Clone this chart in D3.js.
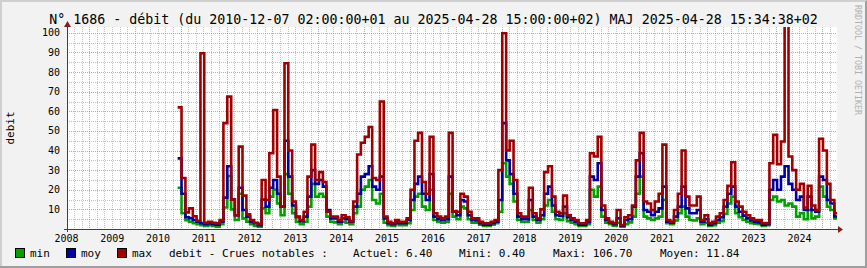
<!DOCTYPE html>
<html><head><meta charset="utf-8">
<script src="https://cdn.jsdelivr.net/npm/d3@7"></script>
<style>
html,body{margin:0;padding:0;background:#f2f2f2;overflow:hidden;}
svg{display:block;}
text{font-family:"DejaVu Sans Mono", monospace;}
</style></head><body>
<svg id="c" width="867" height="268"></svg>
<script>
// ---------- DATA ----------
const titleText = "N° 1686 - débit (du 2010-12-07 02:00:00+01 au 2025-04-28 15:00:00+02) MAJ 2025-04-28 15:34:38+02";
const yAxisTitle = "debit";
const watermark = "RRDTOOL / TOBI OETIKER";
const seriesNames = ["min", "moy", "max"];
const seriesColors = ["#00a000", "#0000a0", "#a00000"];
const legendTitle = "debit - Crues notables :";
const statLabels = ["Actuel:", "Mini:", "Maxi:", "Moyen:"];
const statValues = ["6.40", "0.40", "106.70", "11.84"];
const firstDate = "2010-12-07";          // monthly samples from this date
const axisStart = "2008-07-08T00:00:00";
const axisEnd = "2025-04-28T15:00:00";
const yTicks = [10, 20, 30, 40, 50, 60, 70, 80, 90, 100];
const yMinorTicks = [5, 15, 25, 35, 45, 55, 65, 75, 85, 95];
const yearLabels = [2008, 2009, 2010, 2011, 2012, 2013, 2014, 2015, 2016, 2017, 2018, 2019, 2020, 2021, 2022, 2023, 2024];

const maxValues = [
 62, 26, 8.5, 10.5, 6.5, 4.2, 89.6, 3.2, 3.7, 3.2, 2.9, 4.6,
 54, 67.5, 15, 7, 42, 17, 7.5, 4.6, 3.2, 2.5, 25, 14.8,
 38.6, 60.7, 26.7, 11.4, 84.5, 40, 14, 6, 4.6, 8.8, 26.7, 43,
 25, 29, 24, 8.8, 6.3, 6.3, 4.6, 7, 6, 4, 14, 38,
 44, 47, 52, 26, 25, 65, 6.3, 3.7, 2.9, 4.6, 3.7, 3.7,
 5.4, 20, 45, 49, 24, 18, 47, 8, 6.3, 5.4, 6.3, 49,
 9, 8.8, 18, 16.5, 8.8, 5.4, 5.4, 3.7, 2.9, 2.9, 3.7, 4.6,
 30, 99.8, 40, 45, 25, 8, 6.3, 6.3, 21, 8, 5.4, 10,
 29, 32, 16.5, 8.8, 8, 17, 7, 5.4, 4.6, 2.9, 2.9, 4.6,
 38.6, 37, 47, 12, 5.5, 3.7, 2.9, 9.7, 2, 6, 7, 12,
 35, 49, 14, 13, 9.7, 14, 18, 43, 4.6, 3.7, 9.7, 18,
 40, 16.5, 12, 12, 16.5, 4.6, 7, 2.9, 3.7, 6.3, 8, 14.8,
 22, 34, 14, 11.4, 8.8, 7, 5.4, 4.6, 4.6, 2.9, 3, 33.5,
 48, 33, 44.6, 106.7, 37, 30, 20, 23, 11, 22, 12, 9.7,
 46, 40, 23, 14.8, 8
];
const moyValues = [
 36, 18, 6, 5.5, 4.6, 3.7, 3, 2.5, 3, 2.5, 2.2, 3.7,
 16, 32, 15, 7, 21, 9.7, 6.3, 3.7, 2.9, 2, 15, 11.4,
 21, 25, 18, 11.4, 45, 26.7, 12, 6.3, 4, 6.3, 16.5, 30,
 23, 25, 21.6, 9.7, 5.4, 5.4, 3.7, 5.4, 5, 3.7, 11.4, 18,
 26.7, 28, 32, 21.6, 20, 26.7, 5.4, 2.9, 2.5, 3.4, 2.9, 2.9,
 4.6, 14.8, 23, 26.7, 18, 14.8, 28, 6.3, 5, 4.6, 5, 26.7,
 8.8, 7, 14.8, 14, 7, 4.6, 4.3, 2.9, 2.2, 2.2, 2.9, 3.7,
 14.8, 54, 35, 28, 18, 6.3, 5, 5, 14.8, 6.3, 4.6, 7,
 18, 21.6, 12, 7, 6.6, 11.4, 6, 4.6, 3.7, 2.2, 2.2, 3.6,
 26.7, 25, 33.5, 9.7, 4.6, 3.4, 2.4, 5.4, 1.7, 4.6, 5.1, 11.4,
 26.7, 38.6, 9.7, 8.8, 7, 8.8, 10.5, 21.6, 3.7, 3.2, 6.3, 11.4,
 21.6, 10.5, 8, 8, 9.7, 3.7, 5, 2.2, 2.9, 4.6, 6, 11.4,
 18, 21.6, 11.4, 8.8, 6.8, 5.4, 4.3, 3.6, 3.4, 2.2, 2.5, 20,
 25, 20, 26.7, 32, 23, 20, 14.8, 16.5, 9.7, 16.5, 9.7, 8.8,
 26.7, 25, 14.8, 13, 6.4
];
const minValues = [
 21, 8, 4.5, 3.7, 3, 2.5, 2, 1.5, 2, 1.5, 1.2, 2.5,
 11, 27, 10, 4.6, 18, 5.4, 3.7, 2.5, 1.5, 1.2, 10.5, 8,
 16.5, 20, 13, 7, 28, 18, 8, 3.7, 2.5, 3.7, 11.4, 23,
 16.5, 18, 16.5, 6.3, 3.7, 3.4, 2.5, 3.7, 3.2, 2.5, 8, 11.4,
 20, 21.6, 25, 14.8, 13, 18, 3.2, 2, 1.5, 2.4, 1.9, 1.9,
 2.9, 9.7, 16.5, 18, 11.4, 9.7, 20, 4.6, 3.6, 3.2, 3.6, 18,
 6.3, 5, 11.4, 10.5, 5, 3.2, 3.2, 2.2, 1.5, 1.5, 2.2, 2.9,
 8.8, 33.5, 26.7, 23, 14, 4.6, 3.6, 3.6, 9.7, 4.6, 3.2, 5,
 12, 14.8, 8.8, 5, 4.6, 8, 4, 3.2, 2.5, 1.5, 1.5, 2.5,
 20, 16.5, 21.6, 6.3, 3.2, 2.5, 1.7, 3.2, 1.2, 2.5, 3.4, 6.3,
 18, 26.7, 6.3, 5.4, 4.6, 5.4, 6.3, 14.8, 2.9, 2.4, 4.3, 8,
 11.4, 6.3, 4.6, 4.3, 5.4, 2.5, 3.2, 1.5, 2, 3.2, 4, 7.7,
 13, 16.5, 8, 6, 4.6, 3.7, 3, 2.7, 2.5, 1.5, 1.9, 14.8,
 16.5, 14, 14.8, 12, 13, 11.4, 6.3, 8, 5, 9.7, 5.4, 6.3,
 21.6, 16.5, 11.4, 9.7, 5.4
];

// ---------- LAYOUT ----------
const W = 867, H = 268;
const L = 67, R = 837, T = 27, B = 229;
const svg = d3.select("#c");

svg.append("rect").attr("width", W).attr("height", H).attr("fill", "#f2f2f2");
svg.append("path").attr("d", `M0,0H${W}V2H2V${H}H0Z`).attr("fill", "#cfcfcf");
svg.append("path").attr("d", `M${W},0V${H}H0V${H-2}H${W-2}V2Z`).attr("fill", "#9e9e9e");
svg.append("rect").attr("x", L).attr("y", T).attr("width", R - L).attr("height", B - T).attr("fill", "#ffffff");

const x = d3.scaleTime().domain([new Date(axisStart), new Date(axisEnd)]).range([L, R]);
const y = d3.scaleLinear().domain([0, 103]).range([B, T]);

const gridMinor = "rgba(143,143,143,0.55)";
const gridMajor = "rgba(222,79,79,0.6)";
const dash = "1,1";
const px = v => Math.round(v) + 0.5;

const g = svg.append("g");
// vertical minor grid: every 2 months
const d0 = new Date(axisStart), d1 = new Date(axisEnd);
d3.timeMonth.every(2).range(d0, d1).filter(d => d.getMonth() !== 0).forEach(d => {
  g.append("line").attr("x1", px(x(d))).attr("x2", px(x(d))).attr("y1", T).attr("y2", B)
    .attr("stroke", gridMinor).attr("stroke-dasharray", dash);
});
yMinorTicks.forEach(v => {
  g.append("line").attr("x1", L).attr("x2", R).attr("y1", px(y(v))).attr("y2", px(y(v)))
    .attr("stroke", gridMinor).attr("stroke-dasharray", dash);
});
d3.timeYear.range(d0, d1).forEach(d => {
  g.append("line").attr("x1", px(x(d))).attr("x2", px(x(d))).attr("y1", T).attr("y2", B)
    .attr("stroke", gridMajor).attr("stroke-dasharray", dash);
});
yTicks.forEach(v => {
  g.append("line").attr("x1", L).attr("x2", R).attr("y1", px(y(v))).attr("y2", px(y(v)))
    .attr("stroke", gridMajor).attr("stroke-dasharray", dash);
});

// ---------- SERIES ----------
svg.append("clipPath").attr("id", "clip").append("rect")
  .attr("x", L).attr("y", T).attr("width", R - L).attr("height", B - T);

const start = new Date(firstDate + "T00:00:00");
function toPoints(arr) {
  const pts = arr.map((v, i) => ({ d: d3.timeMonth.offset(start, i), v }));
  pts.push({ d: d3.timeMonth.offset(start, arr.length), v: arr[arr.length - 1] });
  return pts;
}
const line = d3.line().x(p => x(p.d)).y(p => y(p.v)).curve(d3.curveStepAfter);
const allSeries = [minValues, moyValues, maxValues];
const sg = svg.append("g").attr("clip-path", "url(#clip)");
allSeries.forEach((arr, i) => {
  sg.append("path").attr("d", line(toPoints(arr)))
    .attr("fill", "none").attr("stroke", seriesColors[i])
    .attr("stroke-width", 2.6).attr("stroke-linejoin", "miter");
});

// ---------- AXES ----------
const axisCol = "#404040", arrowCol = "#801f1f";
svg.append("line").attr("x1", L - 3).attr("x2", R + 2).attr("y1", B + 0.5).attr("y2", B + 0.5).attr("stroke", axisCol);
svg.append("line").attr("x1", L + 0.5).attr("x2", L + 0.5).attr("y1", B + 3).attr("y2", T - 3).attr("stroke", axisCol);
svg.append("path").attr("d", `M${R+1},${B-3}L${R+6},${B+0.5}L${R+1},${B+4}Z`).attr("fill", arrowCol);
svg.append("path").attr("d", `M${L-3},${T}L${L+0.5},${T-6}L${L+4},${T}Z`).attr("fill", arrowCol);

// y tick labels
yTicks.forEach(v => {
  svg.append("text").attr("x", 60).attr("y", y(v) + 3.5).attr("text-anchor", "end")
    .attr("font-size", 10).attr("fill", "#000").text(v);
});
// x year labels (centered mid-year)
yearLabels.forEach(yr => {
  svg.append("text").attr("x", x(new Date(yr, 6, 4))).attr("y", 242).attr("text-anchor", "middle")
    .attr("font-size", 10).attr("fill", "#000").text(yr);
});

// title
svg.append("text").attr("x", W / 2).attr("y", 24).attr("text-anchor", "middle")
  .attr("font-size", 13.3).attr("fill", "#000").text(titleText);
// y-axis title
svg.append("text").attr("transform", "translate(14,128) rotate(-90)").attr("text-anchor", "middle")
  .attr("font-size", 11).attr("fill", "#000").text(yAxisTitle);
// watermark
svg.append("text").attr("transform", "translate(855,5) rotate(90)").attr("text-anchor", "start")
  .attr("font-size", 8.3).attr("fill", "#b0b0b0").text(watermark);

// ---------- LEGEND ----------
const legX = [15, 66, 117];
seriesNames.forEach((n, i) => {
  svg.append("rect").attr("x", legX[i] + 0.5).attr("y", 248.5).attr("width", 9).attr("height", 9)
    .attr("fill", seriesColors[i]).attr("stroke", "#000");
  svg.append("text").attr("x", legX[i] + 15).attr("y", 257).attr("font-size", 11).attr("fill", "#000").text(n);
});
svg.append("text").attr("x", 169).attr("y", 257).attr("font-size", 11).attr("fill", "#000").text(legendTitle);
const statX = [353, 459, 553, 660];
statLabels.forEach((s, i) => {
  svg.append("text").attr("x", statX[i]).attr("y", 257).attr("font-size", 11).attr("fill", "#000")
    .attr("xml:space", "preserve").style("white-space", "pre").text(s + " " + statValues[i]);
});
</script>
</body></html>
